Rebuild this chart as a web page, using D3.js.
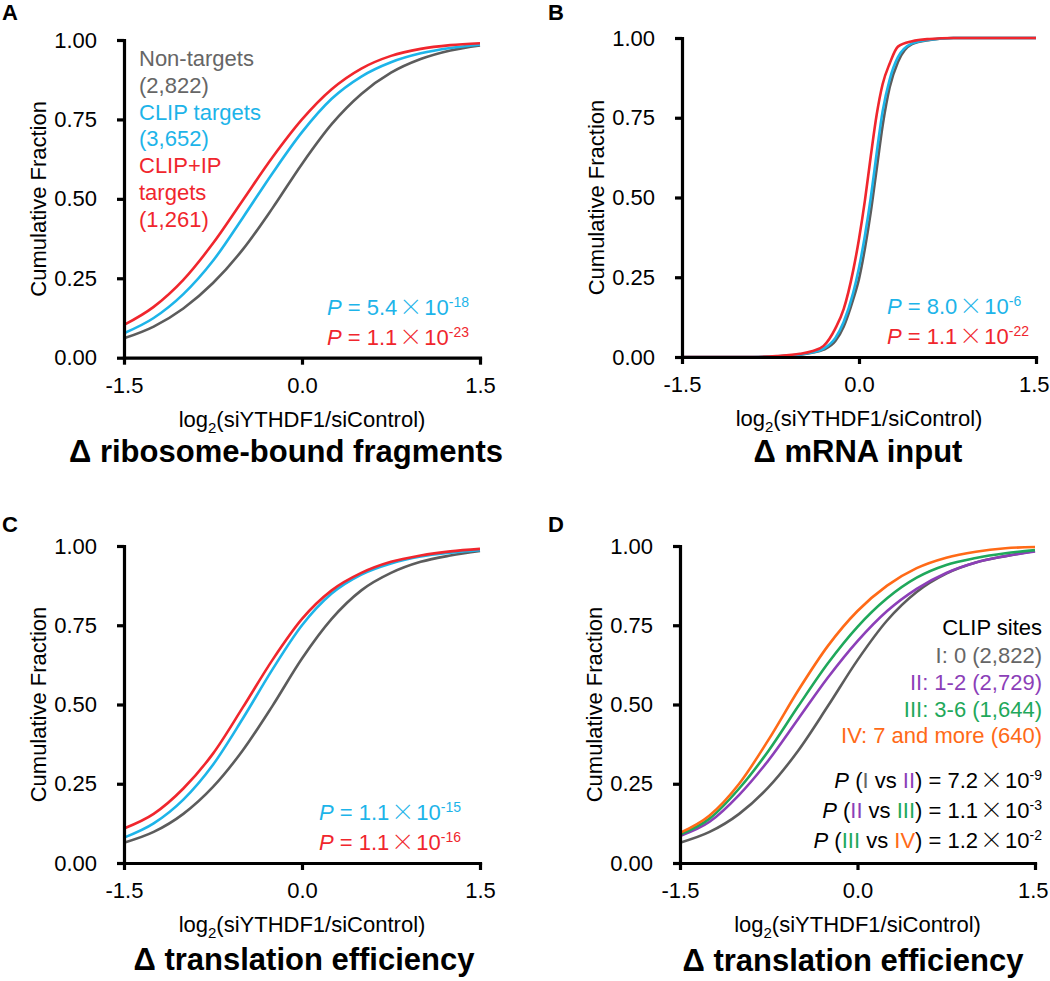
<!DOCTYPE html>
<html><head><meta charset="utf-8">
<script src="https://cdn.jsdelivr.net/npm/d3@7"></script>
<style>
body{margin:0;background:#fff}
svg{display:block}
text{font-family:"Liberation Sans",Arial,Helvetica,sans-serif}
</style>
</head><body>
<svg id="chart" width="1050" height="981"></svg>
<script>
// ---------- data ----------
const xGrid = [-1.5,-1.25,-1.0,-0.75,-0.5,-0.25,0,0.25,0.5,0.75,1.0,1.25,1.5];

// Panel A: ribosome-bound fragments
const aNonTargets = [0.061,0.098,0.155,0.235,0.340,0.470,0.610,0.735,0.830,0.897,0.940,0.967,0.983];
const aClipTargets = [0.077,0.125,0.200,0.305,0.440,0.580,0.710,0.815,0.885,0.930,0.958,0.975,0.985];
const aClipIpTargets = [0.103,0.160,0.245,0.360,0.495,0.630,0.750,0.845,0.910,0.950,0.972,0.984,0.990];

// Panel B: mRNA input
const bX = [-1.5,-0.9,-0.7,-0.5,-0.4,-0.3,-0.2,-0.13,-0.05,0,0.05,0.1,0.15,0.2,0.26,0.33,0.45,0.6,0.8,1.5];
const bNonTargets = [0,0,0.002,0.007,0.013,0.023,0.050,0.095,0.180,0.245,0.340,0.455,0.590,0.725,0.846,0.925,0.981,0.994,1,1];
const bClipTargets = [0,0,0.002,0.008,0.014,0.026,0.060,0.110,0.200,0.280,0.380,0.500,0.640,0.770,0.870,0.940,0.983,0.995,1,1];
const bClipIpTargets = [0,0,0.003,0.010,0.018,0.035,0.090,0.150,0.270,0.370,0.490,0.630,0.760,0.855,0.920,0.973,0.990,0.997,1,1];

// Panel C: translation efficiency
const cNonTargets = [0.064,0.098,0.155,0.240,0.355,0.495,0.645,0.770,0.860,0.915,0.950,0.970,0.984];
const cClipTargets = [0.080,0.125,0.200,0.310,0.455,0.610,0.750,0.850,0.910,0.945,0.967,0.979,0.987];
const cClipIpTargets = [0.109,0.155,0.235,0.345,0.490,0.640,0.770,0.860,0.915,0.950,0.970,0.983,0.991];

// Panel D: translation efficiency by CLIP sites
const dSites0 = [0.064,0.098,0.155,0.240,0.355,0.495,0.640,0.765,0.855,0.913,0.948,0.968,0.984];
const dSites1to2 = [0.085,0.130,0.215,0.325,0.455,0.585,0.700,0.795,0.865,0.915,0.948,0.968,0.983];
const dSites3to6 = [0.090,0.140,0.235,0.355,0.495,0.630,0.745,0.835,0.900,0.940,0.962,0.977,0.987];
const dSites7plus = [0.095,0.150,0.250,0.390,0.545,0.685,0.795,0.875,0.930,0.963,0.982,0.993,0.997];

const xTickValues = [-1.5, 0, 1.5];
const xTickLabels = ["-1.5", "0.0", "1.5"];
const yTickValues = [0, 0.25, 0.5, 0.75, 1];
const yTickLabels = ["0.00", "0.25", "0.50", "0.75", "1.00"];

const panelLetters = ["A", "B", "C", "D"];
const panelTitles = ["\u0394 ribosome-bound fragments", "\u0394 mRNA input", "\u0394 translation efficiency", "\u0394 translation efficiency"];

const legendA = [["Non-targets","gray"],["(2,822)","gray"],["CLIP targets","cyan"],["(3,652)","cyan"],["CLIP+IP","red"],["targets","red"],["(1,261)","red"]];
const legendD = [["CLIP sites","black"],["I: 0 (2,822)","gray"],["II: 1-2 (2,729)","purple"],["III: 3-6 (1,644)","green"],["IV: 7 and more (640)","orange"]];

// ---------- style ----------
const col = {gray:"#5c5c5c", grayText:"#666666", cyan:"#1db4e9", red:"#f0262d", purple:"#8c3fb8", green:"#1fa85b", orange:"#ff6a17", black:"#000"};
const FONT = 22;

const svg = d3.select("#chart");

const panels = [
  {id:0, x0:124, x1:480, y0:357.7, y1:40, letterX:2, letterY:20, titleX:286, titleY:462,
   series:[{x:xGrid,y:aNonTargets,c:col.gray},{x:xGrid,y:aClipTargets,c:col.cyan},{x:xGrid,y:aClipIpTargets,c:col.red}],
   pvals:{left:327, lines:[["5.4","-18",col.cyan],["1.1","-23",col.red]]}},
  {id:1, x0:682, x1:1036, y0:357, y1:38, letterX:548, letterY:20, titleX:858, titleY:462,
   series:[{x:bX,y:bNonTargets,c:col.gray},{x:bX,y:bClipTargets,c:col.cyan},{x:bX,y:bClipIpTargets,c:col.red}],
   pvals:{left:887, lines:[["8.0","-6",col.cyan],["1.1","-22",col.red]]}},
  {id:2, x0:124, x1:480, y0:863, y1:546, letterX:2, letterY:532, titleX:304, titleY:970,
   series:[{x:xGrid,y:cNonTargets,c:col.gray},{x:xGrid,y:cClipTargets,c:col.cyan},{x:xGrid,y:cClipIpTargets,c:col.red}],
   pvals:{left:319, lines:[["1.1","-15",col.cyan],["1.1","-16",col.red]]}},
  {id:3, x0:680, x1:1035, y0:863, y1:546, letterX:548, letterY:532, titleX:853, titleY:971,
   series:[{x:xGrid,y:dSites0,c:col.gray},{x:xGrid,y:dSites1to2,c:col.purple},{x:xGrid,y:dSites3to6,c:col.green},{x:xGrid,y:dSites7plus,c:col.orange}],
   pvals:null}
];

function addTimes(t){
  t.append("tspan").attr("font-family","'Noto Sans CJK SC','DejaVu Sans',sans-serif")
    .attr("font-size",23).attr("font-weight",300).attr("dx",2).text("\u00D7");
}

panels.forEach(p => {
  const x = d3.scaleLinear().domain([-1.5,1.5]).range([p.x0,p.x1]);
  const y = d3.scaleLinear().domain([0,1]).range([p.y0,p.y1]);
  const g = svg.append("g");

  // curves
  const line = d3.line().x(d=>x(d[0])).y(d=>y(d[1])).curve(d3.curveMonotoneX);
  p.series.forEach(s => {
    g.append("path").datum(s.x.map((v,i)=>[v,s.y[i]]))
      .attr("d", line).attr("fill","none").attr("stroke", s.c)
      .attr("stroke-width",2.6).attr("stroke-linejoin","round");
  });

  // axes
  const ax = g.append("g").attr("transform",`translate(0,${p.y0})`)
    .call(d3.axisBottom(x).tickValues(xTickValues).tickFormat((d,i)=>xTickLabels[i]).tickSize(7).tickSizeOuter(0).tickPadding(12.5));
  const ay = g.append("g").attr("transform",`translate(${p.x0},0)`)
    .call(d3.axisLeft(y).tickValues(yTickValues).tickFormat((d,i)=>yTickLabels[i]).tickSize(7).tickSizeOuter(0).tickPadding(20));
  [ax, ay].forEach(a => {
    a.select(".domain").attr("stroke","#000").attr("stroke-width",3.2).attr("stroke-linecap","square");
    a.selectAll(".tick line").attr("stroke","#000").attr("stroke-width",3.2);
    a.selectAll(".tick text").attr("font-size",FONT).attr("fill","#000")
      .attr("font-family","'Liberation Sans',Arial,sans-serif");
  });
  if (p.id === 1 || p.id === 3) {
    ax.selectAll(".tick text").filter((d,i)=>i===2).attr("text-anchor","end").attr("dx",13);
  }

  // y title
  g.append("text").attr("transform",`translate(${p.x0-78},${(p.y0+p.y1)/2}) rotate(-90)`)
    .attr("text-anchor","middle").attr("font-size",FONT).text("Cumulative Fraction");

  // x title
  const xt = g.append("text").attr("x",(p.x0+p.x1)/2).attr("y",p.y0+69).attr("text-anchor","middle").attr("font-size",FONT);
  xt.append("tspan").text("log");
  xt.append("tspan").attr("font-size",15).attr("dy",6).text("2");
  xt.append("tspan").attr("dy",-6).text("(siYTHDF1/siControl)");

  // panel title
  g.append("text").attr("x",p.titleX).attr("y",p.titleY).attr("text-anchor","middle")
    .attr("font-size",31).attr("font-weight","bold").text(panelTitles[p.id]);

  // panel letter
  g.append("text").attr("x",p.letterX).attr("y",p.letterY).attr("font-size",22).attr("font-weight","bold").text(panelLetters[p.id]);

  // p-values
  if (p.pvals) {
    p.pvals.lines.forEach((l,i) => {
      const t = g.append("text").attr("x",p.pvals.left).attr("y",p.y0-43+i*30).attr("font-size",FONT).attr("fill",l[2]);
      t.append("tspan").attr("font-style","italic").text("P");
      t.append("tspan").text(" = " + l[0]);
      addTimes(t);
      t.append("tspan").attr("dx",2).attr("font-size",FONT).text("10");
      t.append("tspan").attr("font-size",14).attr("dy",-8).text(l[1]);
    });
  }

  if (p.id === 0) {
    legendA.forEach((l,i) => {
      g.append("text").attr("x",p.x0+15).attr("y",p.y1+26+i*26.8).attr("font-size",FONT)
        .attr("fill", l[1]==="gray"?col.grayText:col[l[1]]).text(l[0]);
    });
  }

  if (p.id === 3) {
    const rx = 1042;
    const bl = [635,663,690,717,743];
    legendD.forEach((l,i) => {
      g.append("text").attr("x",rx).attr("y",bl[i]).attr("text-anchor","end").attr("font-size",FONT)
        .attr("fill", l[1]==="gray"?col.grayText:col[l[1]]).text(l[0]);
    });
    const pl = [
      [["I",col.grayText],["II",col.purple],"7.2","-9"],
      [["II",col.purple],["III",col.green],"1.1","-3"],
      [["III",col.green],["IV",col.orange],"1.2","-2"]
    ];
    const pb = [788,818,848];
    pl.forEach((l,i) => {
      const t = g.append("text").attr("x",rx).attr("y",pb[i]).attr("text-anchor","end").attr("font-size",FONT).attr("fill","#000");
      t.append("tspan").attr("font-style","italic").text("P");
      t.append("tspan").text(" (");
      t.append("tspan").attr("fill",l[0][1]).text(l[0][0]);
      t.append("tspan").text(" vs ");
      t.append("tspan").attr("fill",l[1][1]).text(l[1][0]);
      t.append("tspan").text(") = " + l[2]);
      addTimes(t);
      t.append("tspan").attr("dx",2).attr("font-size",FONT).text("10");
      t.append("tspan").attr("font-size",14).attr("dy",-8).text(l[3]);
    });
  }
});
</script>
</body></html>
